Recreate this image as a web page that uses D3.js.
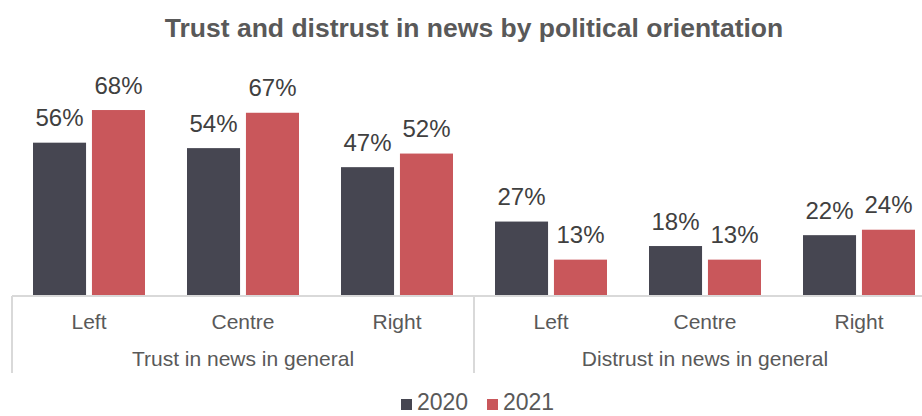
<!DOCTYPE html>
<html>
<head>
<meta charset="utf-8">
<script src="https://cdn.jsdelivr.net/npm/d3@7/dist/d3.min.js"></script>
<style>
  html, body { margin: 0; padding: 0; background: #fff; }
  svg { display: block; font-family: "Liberation Sans", Arial, sans-serif; }
</style>
</head>
<body>
<svg id="chart" width="922" height="416"></svg>
<script>
const title = "Trust and distrust in news by political orientation";
const groups = ["Trust in news in general", "Distrust in news in general"];
const categories = ["Left", "Centre", "Right"];
const years = ["2020", "2021"];
const values2020 = [56, 54, 47, 27, 18, 22];
const values2021 = [68, 67, 52, 13, 13, 24];
const colors = ["#464651", "#c9575b"];

const rows = [];
groups.forEach((g, gi) => categories.forEach((c, ci) => {
  const i = gi * categories.length + ci;
  rows.push({ key: g + "|" + c, group: g, cat: c, vals: [values2020[i], values2021[i]] });
}));

const svg = d3.select("#chart");
const baseline = 295;
const x = d3.scaleBand().domain(rows.map(r => r.key)).range([12, 936]).padding(0);
const xi = d3.scaleBand().domain(years).range([21, 133]).paddingInner(0.1);
const y = d3.scaleLinear().domain([0, 100]).range([baseline, baseline - 272]);

// title
svg.append("text").attr("x", 474).attr("y", 37).attr("text-anchor", "middle")
  .attr("font-size", 26.5).attr("font-weight", "bold").attr("fill", "#595959").text(title);

// bars
const cat = svg.append("g").selectAll("g").data(rows).join("g")
  .attr("transform", d => `translate(${x(d.key)},0)`);
cat.selectAll("rect").data(d => d.vals.map((v, i) => ({ v, year: years[i], i })))
  .join("rect")
  .attr("x", d => xi(d.year)).attr("width", xi.bandwidth())
  .attr("y", d => y(d.v)).attr("height", d => baseline - y(d.v))
  .attr("fill", d => colors[d.i]);
cat.selectAll("text.lbl").data(d => d.vals.map((v, i) => ({ v, year: years[i], i })))
  .join("text").attr("class", "lbl")
  .attr("x", d => xi(d.year) + xi.bandwidth() / 2).attr("y", d => y(d.v) - 16.5)
  .attr("text-anchor", "middle").attr("font-size", 24).attr("fill", "#404040")
  .text(d => d.v + "%");

// axis
const axisColor = "#d9d9d9";
svg.append("line").attr("x1", 12).attr("x2", 922).attr("y1", 296).attr("y2", 296)
  .attr("stroke", axisColor).attr("stroke-width", 2);
const groupEdges = groups.map((g, gi) => x(rows[gi * categories.length].key));
groupEdges.forEach(ex => svg.append("line").attr("x1", ex).attr("x2", ex)
  .attr("y1", 296).attr("y2", 373).attr("stroke", axisColor).attr("stroke-width", 2));

svg.append("g").selectAll("text").data(rows).join("text")
  .attr("x", d => x(d.key) + x.bandwidth() / 2).attr("y", 329)
  .attr("text-anchor", "middle").attr("font-size", 21).attr("fill", "#595959")
  .text(d => d.cat);

svg.append("g").selectAll("text").data(groups).join("text")
  .attr("x", (g, gi) => x(rows[gi * 3].key) + x.bandwidth() * 1.5).attr("y", 366)
  .attr("text-anchor", "middle").attr("font-size", 21).attr("fill", "#595959")
  .text(d => d);

// legend
const legX = [401, 487];
const leg = svg.append("g").selectAll("g").data(years).join("g")
  .attr("transform", (d, i) => `translate(${legX[i]},0)`);
leg.append("rect").attr("x", 0).attr("y", 399).attr("width", 11).attr("height", 11)
  .attr("fill", (d, i) => colors[i]);
leg.append("text").attr("x", 16).attr("y", 410).attr("font-size", 23)
  .attr("fill", "#595959").text(d => d);
</script>
</body>
</html>
